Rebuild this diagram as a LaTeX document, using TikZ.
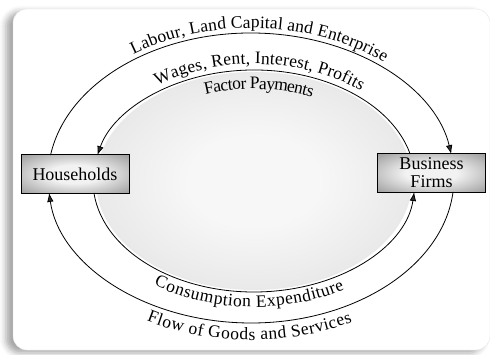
\documentclass[tikz,border=0pt]{standalone}
\usepackage{fontspec}
\setmainfont{Liberation Serif}
\usetikzlibrary{arrows.meta,decorations.text,shadows.blur}

\colorlet{ballmid}{white!97!black}
\colorlet{ballrim}{black!18}
\colorlet{boxmid}{white!95!black}
\colorlet{boxrim}{black!36}
\pgfdeclareradialshading{ballshade}{\pgfpoint{0bp}{0bp}}{color(0bp)=(ballmid); color(10bp)=(ballmid); color(50bp)=(ballrim)}
\pgfdeclareradialshading{boxshade}{\pgfpoint{0bp}{0bp}}{color(0bp)=(boxmid); color(12bp)=(boxmid); color(34bp)=(boxrim); color(50bp)=(boxrim)}
\newcommand{\arcfont}{\fontsize{17.5}{17.5}\selectfont}

\begin{document}
\begin{tikzpicture}[x=1pt, y=1pt,
  box/.style={draw, line width=1pt, shading=boxshade, minimum width=108pt,
    minimum height=38pt, align=center, inner sep=1pt, font=\fontsize{18}{18}\selectfont},
  flow/.style={line width=0.8pt, -{Latex[length=9pt,width=6.5pt]}}]
  \useasboundingbox (0,0) rectangle (490,354);
  \draw[draw=black!10, fill=white, rounded corners=14pt,
    blur shadow={shadow xshift=-7pt, shadow yshift=-3pt, shadow blur radius=6pt, shadow opacity=35}]
    (13,4) rectangle (490,345);

  \coordinate (outerc) at (251,176);
  \coordinate (innerc) at (254,173);
  \shade[shading=ballshade] (innerc) ellipse [x radius=158pt, y radius=109pt];

  \node[box] (house) at (75,180) {Households};
  \node[box] (firms) at (431.5,181) {Business\\Firms};

  % ends of the four flows
  \path (outerc) ++(170.9:203pt and 145pt) coordinate (ot);
  \path (outerc) ++(-5.5:203pt and 145pt) coordinate (ob);
  \path (innerc) ++(14.1:161pt and 111pt) coordinate (it);
  \path (innerc) ++(-173.8:161pt and 111pt) coordinate (ib);

  \draw[flow] (ot) arc [start angle=170.9, end angle=9.5, x radius=203pt, y radius=145pt];
  \draw[flow] (ob) arc [start angle=-5.5, end angle=-174.1, x radius=203pt, y radius=145pt];
  \draw[flow] (it) arc [start angle=14.1, end angle=166.5, x radius=161pt, y radius=111pt];
  \draw[flow] (ib) arc [start angle=-173.8, end angle=-5.7, x radius=161pt, y radius=111pt];

  % labels along the flows
  \path (outerc) ++(166.6:203pt and 145pt) coordinate (l1);
  \path[decorate, decoration={text along path, text align=center, raise=5pt,
    text={|\arcfont|Labour, Land Capital and Enterprise}}]
    (l1) arc [start angle=166.6, end angle=6.6, x radius=203pt, y radius=145pt];
  \path (innerc) ++(167.2:161pt and 111pt) coordinate (l2);
  \path[decorate, decoration={text along path, text align=center, raise=6pt,
    text={|\arcfont|Wages, Rent, Interest, Profits}}]
    (l2) arc [start angle=167.2, end angle=7.2, x radius=161pt, y radius=111pt];
  \path[decorate, decoration={text along path, text align=center, raise=-19pt,
    text={|\arcfont|Factor Payments}}]
    (l2) arc [start angle=167.2, end angle=7.2, x radius=161pt, y radius=111pt];
  \path (innerc) ++(-172.5:161pt and 111pt) coordinate (l3);
  \path[decorate, decoration={text along path, text align=center, raise=-15pt,
    text={|\arcfont|Consumption Expenditure}}]
    (l3) arc [start angle=-172.5, end angle=-12.5, x radius=161pt, y radius=111pt];
  \path (outerc) ++(-170.6:203pt and 145pt) coordinate (l4);
  \path[decorate, decoration={text along path, text align=center, raise=-17pt,
    text={|\arcfont|Flow of Goods and Services}}]
    (l4) arc [start angle=-170.6, end angle=-10.6, x radius=203pt, y radius=145pt];
\end{tikzpicture}
\end{document}
